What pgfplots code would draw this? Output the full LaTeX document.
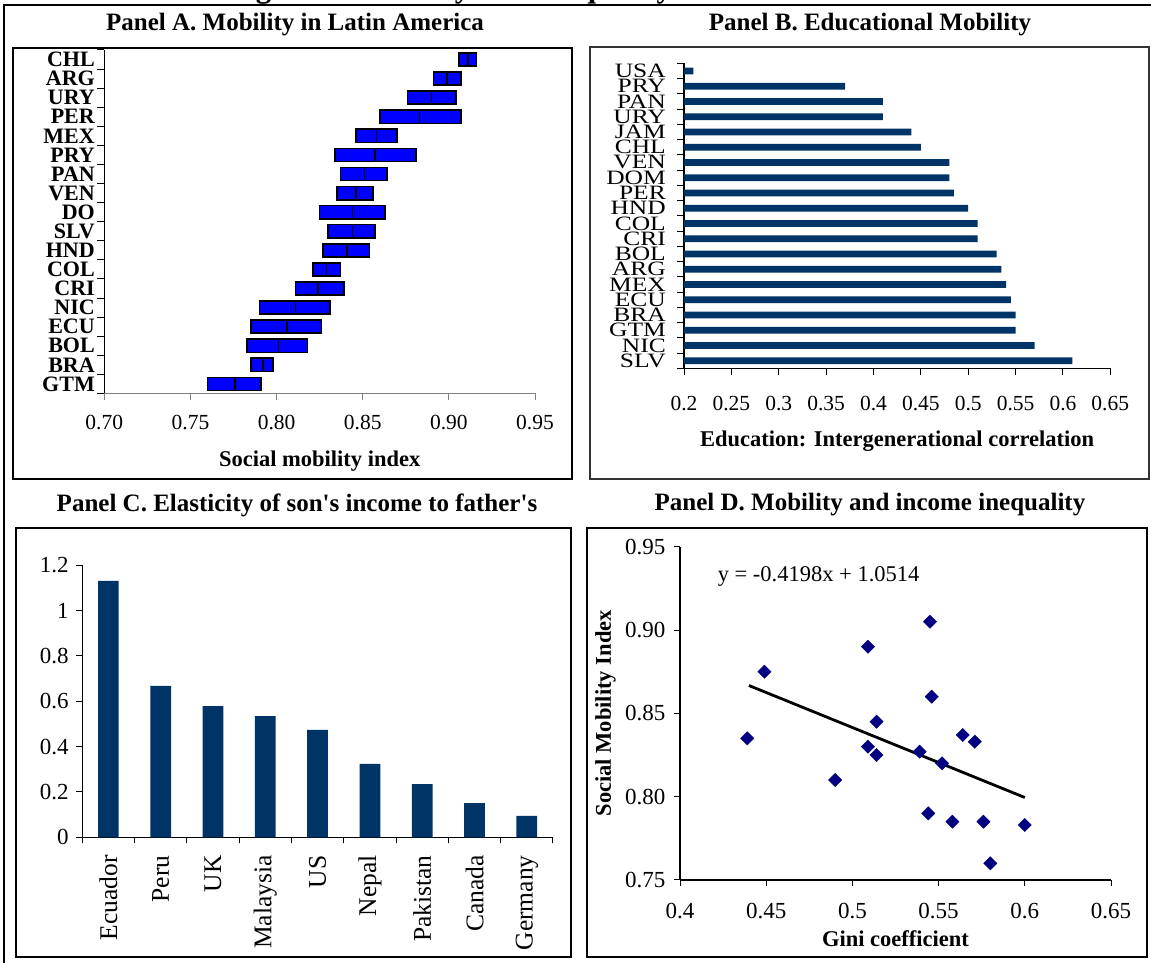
\documentclass[border=0pt]{standalone}
\usepackage{pgfplots}
\pgfplotsset{compat=1.18}
\usepackage{pgfplotstable}
\usepackage{fontspec}
\setmainfont{Liberation Serif}[Ligatures=TeXOff]
\definecolor{barblue}{HTML}{003366}
\definecolor{navy}{HTML}{000080}
\newcommand{\fs}[1]{\fontsize{#1}{#1}\selectfont}

% Panel A: low, median, high of the social mobility index
\pgfplotstableread{
y L M R
0 0.760 0.776 0.791
1 0.785 0.792 0.798
2 0.783 0.801 0.818
3 0.785 0.806 0.826
4 0.790 0.811 0.831
5 0.811 0.824 0.839
6 0.821 0.829 0.837
7 0.827 0.841 0.854
8 0.830 0.844 0.857
9 0.825 0.844 0.863
10 0.835 0.846 0.856
11 0.837 0.851 0.864
12 0.834 0.857 0.881
13 0.846 0.858 0.870
14 0.860 0.883 0.907
15 0.876 0.890 0.904
16 0.891 0.899 0.907
17 0.906 0.911 0.916
}\dataA

% Panel B: educational intergenerational correlation
\pgfplotstableread{
y v
0 0.61
1 0.57
2 0.55
3 0.55
4 0.545
5 0.54
6 0.535
7 0.53
8 0.51
9 0.51
10 0.50
11 0.485
12 0.48
13 0.48
14 0.45
15 0.44
16 0.41
17 0.41
18 0.37
19 0.21
}\dataB

% Panel C: elasticity
\pgfplotstableread{
x v
0 1.131
1 0.668
2 0.579
3 0.535
4 0.474
5 0.324
6 0.235
7 0.151
8 0.094
}\dataC

\pgfplotsset{every axis/.append style={
  scale only axis, anchor=south west, tick align=outside,
  /pgf/number format/assume math mode=true,
  ticklabel style={font=\fs{22}},
  label style={font=\bfseries\fs{22.5}},
  axis x line*=bottom, axis y line*=left,
  axis line style={line width=1.2pt},
  tick style={line width=1pt, black},
  major tick length=6pt,
}}

\begin{document}
\begin{tikzpicture}[x=1pt,y=1pt]
\useasboundingbox (0,0) rectangle (1151,963);
% cut-off figure title
\begin{scope}
\clip (0,0) rectangle (1151,963);
\node[anchor=base west, inner sep=0pt, font=\bfseries\fs{31}] at (228,965.5) {Figure 1. Mobility and Inequality};
\end{scope}
% outer lines
\draw[line width=2.2pt] (3,958) -- (1152,958);
\draw[line width=1.6pt] (4,958) -- (4,-1);
% panel frames
\draw[line width=1.3pt] (13,915) rectangle (572,484);
\draw[line width=1.3pt, black!80] (590,916) rectangle (1149,484);
\draw[line width=1.3pt] (16,435) rectangle (571,6);
\draw[line width=1.3pt] (587,435) rectangle (1147,6);
% panel titles
\node[font=\bfseries\fs{25}] at (295,938) {Panel A. Mobility in Latin America};
\node[font=\bfseries\fs{25}] at (870,938) {Panel B. Educational Mobility};
\node[font=\bfseries\fs{25}] at (297,458) {Panel C. Elasticity of son's income to father's};
\node[font=\bfseries\fs{25}] at (870,458) {Panel D. Mobility and income inequality};

% ---------------- Panel A ----------------
\begin{axis}[at={(104.3pt,569.5pt)}, width=430.7pt, height=343.5pt,
  xmin=0.7, xmax=0.95, ymin=-0.5, ymax=17.5,
  xbar stacked, bar width=13.2pt,
  x axis line style={gray}, xtick style={gray},
  xtick={0.7,0.75,0.8,0.85,0.9,0.95},
  xticklabel style={/pgf/number format/.cd, fixed, fixed zerofill, precision=2, /tikz/yshift=-11pt, /tikz/font=\fs{21.5}},
  ytick={-0.5,0.5,...,17.5}, yticklabels={}, major tick length=7pt,
  extra y ticks={0,1,...,17},
  extra y tick labels={GTM,BRA,BOL,ECU,NIC,CRI,COL,HND,SLV,DO,VEN,PAN,PRY,MEX,PER,URY,ARG,CHL},
  extra y tick style={major tick length=0pt, yticklabel style={font=\bfseries\fs{22}, xshift=-6pt}},
  xlabel={Social mobility index},
  xlabel style={at={(rel axis cs:0.5,0)}, anchor=center, yshift=-68pt},
]
\addplot[draw=none, fill=none] table[x=L, y=y] {\dataA};
\addplot[fill=blue, draw=black, line width=1.6pt] table[x expr=\thisrow{M}-\thisrow{L}, y=y] {\dataA};
\addplot[fill=blue, draw=black, line width=1.6pt] table[x expr=\thisrow{R}-\thisrow{M}, y=y] {\dataA};
\end{axis}

% ---------------- Panel B ----------------
\begin{axis}[at={(684pt,594.7pt)}, width=426.3pt, height=305pt,
  xmin=0.2, xmax=0.65, ymin=-0.5, ymax=19.5,
  xbar, bar width=6.7pt,
  xtick={0.2,0.25,0.3,0.35,0.4,0.45,0.5,0.55,0.6,0.65},
  xticklabel style={yshift=-17pt, font=\fs{21.5}},
  ytick={-0.5,0.5,...,19.5}, yticklabels={}, major tick length=7pt,
  extra y ticks={0,1,...,19},
  extra y tick labels={SLV,NIC,GTM,BRA,ECU,MEX,ARG,BOL,CRI,COL,HND,PER,DOM,VEN,CHL,JAM,URY,PAN,PRY,USA},
  extra y tick style={major tick length=0pt, yticklabel style={font=\fs{25.5}, yscale=0.8, inner sep=0pt, xshift=-18pt}},
  xlabel={Education: Intergenerational correlation},
  xlabel style={at={(rel axis cs:0.5,0)}, anchor=center, yshift=-72.7pt},
]
\addplot[fill=barblue, draw=none] table[x=v, y=y] {\dataB};
\end{axis}

% ---------------- Panel C ----------------
\begin{axis}[at={(82.2pt,125.7pt)}, width=470.8pt, height=272pt,
  xmin=-0.5, xmax=8.5, ymin=0, ymax=1.2,
  ybar, bar width=20.7pt,
  ytick={0,0.2,0.4,0.6,0.8,1,1.2},
  yticklabel style={xshift=-4pt, font=\fs{23}},
  xtick={-0.5,0.5,...,8.5}, xticklabels={},
  extra x ticks={0,1,...,8},
  extra x tick labels={Ecuador,Peru,UK,Malaysia,US,Nepal,Pakistan,Canada,Germany},
  extra x tick style={major tick length=0pt, xticklabel style={rotate=90, anchor=east, inner xsep=18pt, inner ysep=0pt, font=\fs{25.5}}},
]
\addplot[fill=barblue, draw=none] table[x=x, y=v] {\dataC};
\end{axis}

% ---------------- Panel D ----------------
\begin{axis}[at={(680pt,83pt)}, width=431pt, height=333.3pt,
  xmin=0.4, xmax=0.65, ymin=0.75, ymax=0.95,
  xtick={0.4,0.45,0.5,0.55,0.6,0.65},
  ytick={0.75,0.8,0.85,0.9,0.95},
  xticklabel style={yshift=-14pt, font=\fs{23}},
  yticklabel style={/pgf/number format/.cd, fixed, fixed zerofill, precision=2, /tikz/xshift=-5pt, /tikz/font=\fs{23}},
  xlabel={Gini coefficient},
  xlabel style={at={(rel axis cs:0.5,0)}, anchor=center, yshift=-59pt},
  ylabel={Social Mobility Index},
  ylabel style={at={(axis description cs:-0.1729,0.5)}, anchor=center},
]
\addplot[only marks, mark=square*, mark size=4.7pt, mark options={rotate=45, fill=navy, draw=navy}] coordinates {
(0.439,0.835) (0.449,0.875) (0.490,0.810) (0.509,0.890) (0.509,0.830)
(0.514,0.845) (0.514,0.825) (0.539,0.827) (0.544,0.790) (0.545,0.905)
(0.546,0.860) (0.552,0.820) (0.558,0.785) (0.564,0.837) (0.571,0.833)
(0.576,0.785) (0.580,0.760) (0.600,0.783)
};
\addplot[black, line width=2.8pt] coordinates {(0.44,0.8667) (0.6,0.7995)};
\node[anchor=west, inner sep=0pt, font=\fs{22.5}] at (axis cs:0.4218,0.9324) {y = -0.4198x + 1.0514};
\end{axis}
\end{tikzpicture}
\end{document}
